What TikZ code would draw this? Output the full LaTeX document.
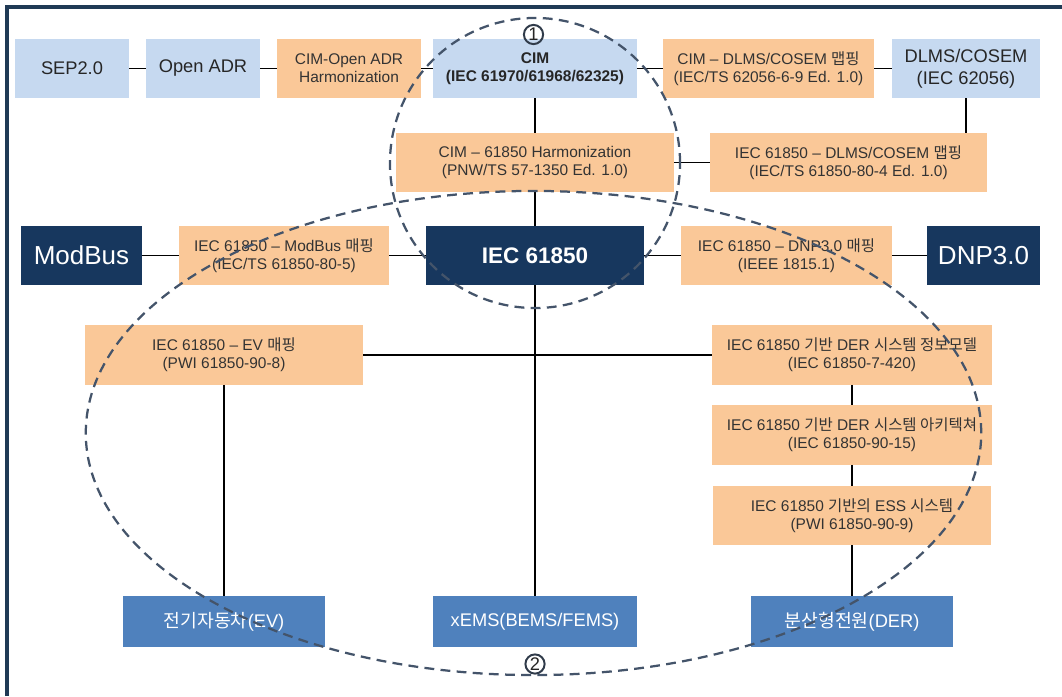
\documentclass[tikz,border=0pt]{standalone}
\usepackage{fontspec}
\setmainfont{Liberation Sans}
\newfontfamily\kr{Noto Sans CJK KR}
\usepackage{tikz}
\usetikzlibrary{calc}
\definecolor{stdblue}{HTML}{C6D9F0}
\definecolor{maporange}{HTML}{FAC898}
\definecolor{corenavy}{HTML}{17375E}
\definecolor{devblue}{HTML}{4F81BD}
\definecolor{zonegray}{HTML}{44546A}
\definecolor{framenavy}{HTML}{203A55}

\begin{document}
\begin{tikzpicture}[x=0.025cm,y=-0.025cm,
	box/.style={inner sep=0pt, align=center, minimum height=1.475cm},
	std/.style={box, fill=stdblue, text=black!85, font=\fontsize{13}{15.6}\selectfont},
	map/.style={box, fill=maporange, text=black!80, font=\fontsize{11}{13}\selectfont},
	core/.style={box, fill=corenavy, text=white, font=\fontsize{18.5}{20}\selectfont},
	dev/.style={box, fill=devblue, text=white, minimum height=1.275cm, font=\fontsize{13}{15}\selectfont},
	link/.style={line width=1.4pt},
	zone/.style={zonegray, line width=1.6pt, dash pattern=on 7pt off 4.5pt},
	num/.style={circle, draw=zonegray!70!black, text=black!85, line width=1.4pt, inner sep=0pt, minimum size=0.48cm, font=\fontsize{13}{13}\selectfont}
	]
	\fill[white] (0,0) rectangle (1062,696);
	\useasboundingbox (0,0) rectangle (1062,696);
%	frame
	\draw[framenavy, line width=2.2pt] (7,696) -- (7,7) -- (1062,7);

%	upper row
	\node[std, minimum width=2.84cm] (sep) at (72,68.5) {SEP2.0};
	\node[std, minimum width=2.85cm] (adr) at (203,68.5) {Open ADR};
	\node[map, minimum width=3.6cm] (cimadr) at (349,68.5) {CIM-Open ADR\\Harmonization};
	\node[std, minimum width=5.075cm, font=\bfseries\fontsize{11}{13}\selectfont] (cim) at (535,68.5) {CIM\\(IEC 61970/61968/62325)};
	\node[map, minimum width=5.275cm] (cimdlms) at (768.5,68.5) {CIM – DLMS/COSEM {\kr 맵핑}\\(IEC/TS 62056-6-9 Ed. 1.0)};
	\node[std, minimum width=3.7cm] (dlms) at (966,68.5) {DLMS/COSEM\\(IEC 62056)};

%	harmonization row
	\node[map, minimum width=6.95cm] (cimiec) at (535,162.5) {CIM – 61850 Harmonization\\(PNW/TS 57-1350 Ed. 1.0)};
	\node[map, minimum width=6.925cm] (iecdlms) at (848.5,162.5) {IEC 61850 – DLMS/COSEM {\kr 맵핑}\\(IEC/TS 61850-80-4 Ed. 1.0)};

%	core row
	\node[core, minimum width=3.025cm] (modbus) at (81.5,255.5) {ModBus};
	\node[map, minimum width=5.25cm] (iecmod) at (284,255.5) {IEC 61850 – ModBus {\kr 매핑}\\(IEC/TS 61850-80-5)};
	\node[core, minimum width=5.45cm, font=\bfseries\fontsize{16}{18}\selectfont] (iec) at (535,255.5) {IEC 61850};
	\node[map, minimum width=5.275cm] (iecdnp) at (786.5,255.5) {IEC 61850 – DNP3.0 {\kr 매핑}\\(IEEE 1815.1)};
	\node[core, minimum width=2.825cm] (dnp) at (983.5,255.5) {DNP3.0};

%	mapping row
	\node[map, minimum width=6.95cm] (iecev) at (224,355) {IEC 61850 – EV {\kr 매핑}\\(PWI 61850-90-8)};
	\node[map, minimum width=6.975cm] (derinfo) at (852,355) {IEC 61850 {\kr 기반} DER {\kr 시스템 정보모델}\\(IEC 61850-7-420)};
	\node[map, minimum width=6.975cm] (derarch) at (852,435) {IEC 61850 {\kr 기반} DER {\kr 시스템 아키텍쳐}\\(IEC 61850-90-15)};
	\node[map, minimum width=6.95cm] (ess) at (852,515.5) {IEC 61850 {\kr 기반의} ESS {\kr 시스템}\\(PWI 61850-90-9)};

%	devices
	\node[dev, minimum width=5.05cm] (ev) at (224,621.5) {{\kr 전기자동차}(EV)};
	\node[dev, minimum width=5.075cm] (xems) at (535,621.5) {xEMS(BEMS/FEMS)};
	\node[dev, minimum width=5.05cm] (der) at (852,621.5) {{\kr 분산형전원}(DER)};

%	links
	\draw[link] (sep) -- (adr) (adr) -- (cimadr) (cimadr) -- (cim) (cim) -- (cimdlms) (cimdlms) -- (dlms);
	\draw[link] (cim) -- (cimiec) (cimiec) -- (iecdlms) (dlms) -- (dlms |- iecdlms.north);
	\draw[link] (cimiec) -- (iec);
	\draw[link] (modbus) -- (iecmod) (iecmod) -- (iec) (iec) -- (iecdnp) (iecdnp) -- (dnp);
	\draw[link] (iec) -- (xems);
	\draw[link] (iecev) -- (derinfo);
	\draw[link] (iecev) -- (ev);
	\draw[link] (derinfo) -- (derarch) (derarch) -- (ess) (ess) -- (der);

%	zones
	\coordinate (zone1) at (535,163);
	\coordinate (zone2) at (533.5,433);
	\draw[zone] (zone1) ellipse [x radius=3.625cm, y radius=3.625cm];
	\draw[zone] (zone2) ellipse [x radius=11.19cm, y radius=6.05cm];
	\node[num] (n1) at (533.5,34.5) {1};
	\node[num] (n2) at (535,664) {2};
\end{tikzpicture}
\end{document}
